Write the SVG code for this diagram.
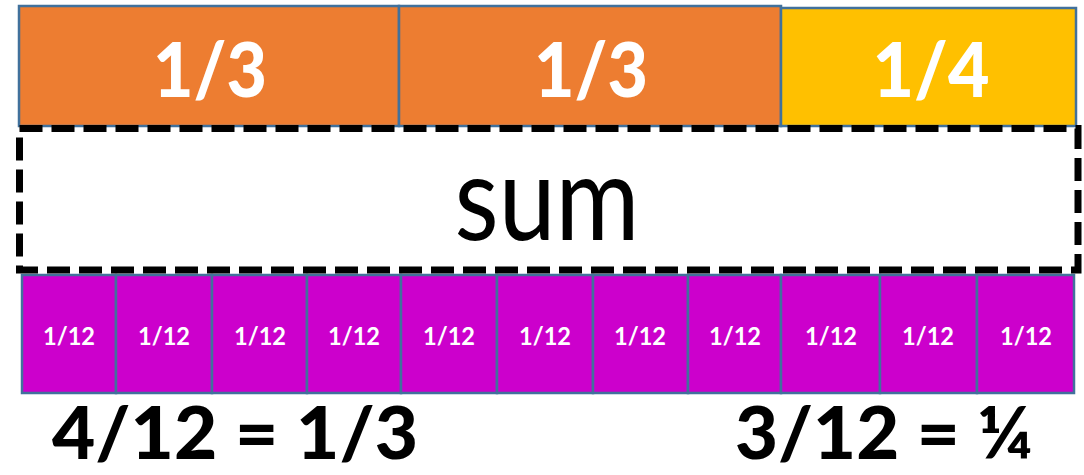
<svg xmlns="http://www.w3.org/2000/svg" width="1084" height="475" viewBox="0 0 1084 475">
<style>
.box{stroke:#41719C;stroke-width:2.5}
.third{fill:#ED7D31}
.quarter{fill:#FFC000}
.twelfth{fill:#CC00CC}
.big{font-family:Lato,"Open Sans",sans-serif;font-weight:900;fill:#fff;font-size:76px;text-anchor:middle}
.small{font-family:Lato,"Open Sans",sans-serif;font-weight:bold;fill:#fff;font-size:25px;text-anchor:middle}
.eq{font-family:Lato,"Open Sans",sans-serif;font-weight:900;fill:#000;font-size:73px}
.sum{font-family:Lato,"Open Sans",sans-serif;fill:#000;font-size:118px;text-anchor:middle}
</style>
<rect width="1084" height="475" fill="#fff"/>
<g id="twelfths">
<g id="t1"><rect class="box twelfth" x="22" y="275" width="94" height="118"/><text class="small" x="69" y="345" textLength="52" lengthAdjust="spacingAndGlyphs">1/12</text></g>
<g id="t2"><rect class="box twelfth" x="116" y="275" width="96" height="118"/><text class="small" x="164" y="345" textLength="52" lengthAdjust="spacingAndGlyphs">1/12</text></g>
<g id="t3"><rect class="box twelfth" x="212" y="275" width="95" height="118"/><text class="small" x="260" y="345" textLength="52" lengthAdjust="spacingAndGlyphs">1/12</text></g>
<g id="t4"><rect class="box twelfth" x="307" y="275" width="94" height="118"/><text class="small" x="354" y="345" textLength="52" lengthAdjust="spacingAndGlyphs">1/12</text></g>
<g id="t5"><rect class="box twelfth" x="401" y="275" width="96" height="118"/><text class="small" x="449" y="345" textLength="52" lengthAdjust="spacingAndGlyphs">1/12</text></g>
<g id="t6"><rect class="box twelfth" x="497" y="275" width="96" height="118"/><text class="small" x="545" y="345" textLength="52" lengthAdjust="spacingAndGlyphs">1/12</text></g>
<g id="t7"><rect class="box twelfth" x="593" y="275" width="95" height="118"/><text class="small" x="640" y="345" textLength="52" lengthAdjust="spacingAndGlyphs">1/12</text></g>
<g id="t8"><rect class="box twelfth" x="688" y="275" width="93" height="118"/><text class="small" x="735" y="345" textLength="52" lengthAdjust="spacingAndGlyphs">1/12</text></g>
<g id="t9"><rect class="box twelfth" x="781" y="275" width="99" height="118"/><text class="small" x="831" y="345" textLength="52" lengthAdjust="spacingAndGlyphs">1/12</text></g>
<g id="t10"><rect class="box twelfth" x="880" y="275" width="97" height="118"/><text class="small" x="928" y="345" textLength="52" lengthAdjust="spacingAndGlyphs">1/12</text></g>
<g id="t11"><rect class="box twelfth" x="977" y="275" width="97" height="118"/><text class="small" x="1026" y="345" textLength="52" lengthAdjust="spacingAndGlyphs">1/12</text></g>
</g>
<g id="thirdA"><rect class="box third" x="19" y="6" width="380" height="120"/><text class="big" x="210" y="97" textLength="114" lengthAdjust="spacingAndGlyphs">1/3</text></g>
<g id="thirdB"><rect class="box third" x="399" y="6" width="382" height="120"/><text class="big" x="591" y="97" textLength="114" lengthAdjust="spacingAndGlyphs">1/3</text></g>
<g id="quarter"><rect class="box quarter" x="781" y="8" width="295" height="118"/><text class="big" x="931" y="97" textLength="117" lengthAdjust="spacingAndGlyphs">1/4</text></g>
<g id="sumbox"><rect x="19.5" y="128.5" width="1058.5" height="141.5" fill="#fff" fill-opacity="0" stroke="#000" stroke-width="7" stroke-dasharray="23 9"/><text class="sum" x="547" y="240" textLength="185" lengthAdjust="spacingAndGlyphs">sum</text></g>
<g id="connectors"></g>
<g id="labels">
<text class="eq" x="52" y="459" textLength="366" lengthAdjust="spacingAndGlyphs">4/12 = 1/3</text>
<text class="eq" x="735" y="459" textLength="298" lengthAdjust="spacingAndGlyphs">3/12 = ¼</text>
</g>
</svg>
